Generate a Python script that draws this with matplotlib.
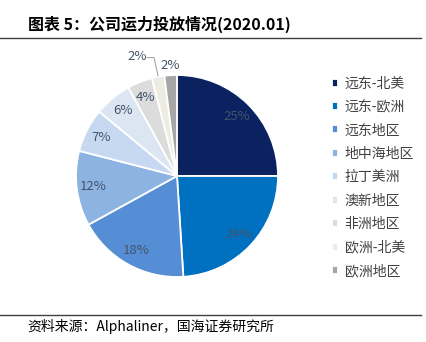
import numpy as np
import matplotlib
matplotlib.use('Agg')
import matplotlib.pyplot as plt

plt.rcParams['font.family'] = ['Noto Sans CJK SC', 'DejaVu Sans']

# 数据
regions = ['远东-北美', '远东-欧洲', '远东地区', '地中海地区', '拉丁美洲',
           '澳新地区', '非洲地区', '欧洲-北美', '欧洲地区']
shares = [25, 24, 18, 12, 7, 6, 4, 2, 2]
colors = ['#0b2260', '#0070c0', '#558ed5', '#8db3e2', '#c6d9f1',
          '#dce6f2', '#dcdcdc', '#eeece1', '#a6a6a6']
title = '图表 5：公司运力投放情况(2020.01)'
source = '资料来源：Alphaliner，国海证券研究所'

W, H = 426, 342
fig = plt.figure(figsize=(W / 100, H / 100), dpi=100)

# 标题和分隔线
fig.text(28 / W, 1 - 24 / H, title, fontsize=11.5, fontweight='bold',
         color='black', va='center', ha='left')
fig.add_artist(plt.Line2D([0, 421 / W], [1 - 37.5 / H] * 2, color='#404040', lw=1.0))
fig.add_artist(plt.Line2D([0, 421 / W], [1 - 315 / H] * 2, color='#404040', lw=1.0))
fig.text(27 / W, 1 - 326 / H, source, fontsize=10, color='black', va='center', ha='left')

# 饼图
cx, cy, r = 177, 176, 101
ax = fig.add_axes([(cx - r) / W, (H - cy - r) / H, 2 * r / W, 2 * r / H])
wedges, _ = ax.pie(shares, colors=colors, startangle=90, counterclock=False,
                   wedgeprops=dict(edgecolor='white', linewidth=1.3))
ax.set_xlim(-1, 1)
ax.set_ylim(-1, 1)
ax.set_aspect('equal')
ax.axis('off')

label_color = '#44546a'
for i, (w, v) in enumerate(zip(wedges, shares)):
    ang = np.deg2rad((w.theta1 + w.theta2) / 2)
    txt = f'{v}%'
    if i == len(shares) - 1:
        ax.text(1.1 * np.cos(ang), 1.1 * np.sin(ang), txt, fontsize=9.5,
                color=label_color, ha='center', va='center')
    elif i == len(shares) - 2:
        # 小扇区标签，加引导线
        x0, y0 = np.cos(ang), np.sin(ang)
        tx, ty = x0 - 0.21, y0 + 0.2
        ax.text(tx, ty, txt, fontsize=9.5, color=label_color, ha='center', va='center')
        ax.plot([tx + 0.1, x0 - 0.04, x0], [ty - 0.01, ty - 0.01, y0 + 0.01],
                color='#a6a6a6', lw=0.8, clip_on=False)
    else:
        ax.text(0.84 * np.cos(ang), 0.84 * np.sin(ang), txt, fontsize=9.5,
                color=label_color, ha='center', va='center')

# 图例
fig.legend(wedges, regions, loc='upper left', bbox_to_anchor=(319 / W, 1 - 64 / H),
           frameon=False, fontsize=10, labelcolor='#404040',
           handlelength=0.5, handleheight=0.5, handletextpad=0.45,
           labelspacing=0.68)

plt.savefig('out.png', dpi=100)
plt.close()
